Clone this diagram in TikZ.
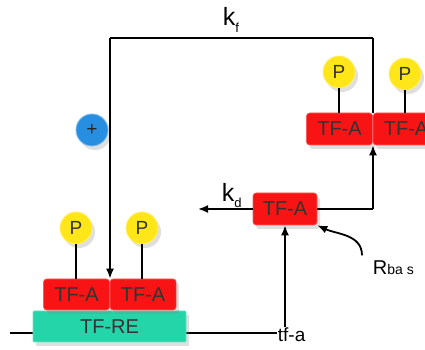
\documentclass[tikz,border=0pt]{standalone}
\usepackage{fontspec}
\setmainfont{Liberation Sans}
\usepackage{tikz}
\usetikzlibrary{arrows.meta,positioning,shadows}

\definecolor{tfred}{RGB}{248,20,20}
\definecolor{tfteal}{RGB}{37,213,170}
\definecolor{phyellow}{RGB}{255,230,25}
\definecolor{plusblue}{RGB}{40,142,224}

\begin{document}
\begin{tikzpicture}[x=1pt,y=1pt,line width=1.8pt,>={Latex[length=10pt,width=8pt]},
  shade/.style={drop shadow={opacity=0.25,shadow xshift=3pt,shadow yshift=-4pt}},
  tfbox/.style={shade,fill=tfred,draw=tfred!70!white,line width=0.6pt,rounded corners=3pt,minimum width=66pt,minimum height=31pt,inner sep=0pt,text=black!80,font=\fontsize{20}{22}\selectfont},
  rebox/.style={tfbox,fill=tfteal,draw=tfteal!70!white,minimum width=153pt,rounded corners=1pt},
  phos/.style={shade,circle,fill=phyellow,draw=phyellow!60!white,line width=0.8pt,minimum size=32pt,inner sep=0pt,text=black!80,font=\fontsize{19}{20}\selectfont},
  txt/.style={inner sep=0pt,anchor=base west}]
\useasboundingbox (0,0) rectangle (425,350);
\clip (0,0) rectangle (425,350);

% DNA strand and gene
\coordinate (dnaL) at (10,17);
\node[txt,font=\fontsize{19}{20}\selectfont] (tfa) at (277,8) {tf-a};
\draw (dnaL) -- (tfa.west |- dnaL);
\node[rebox] (re) at (109.5,23.5) {TF-RE};

% bound dimer
\node[tfbox] (ta1) at (76.5,55.5) {TF-A};
\node[tfbox,right=0pt of ta1] (ta2) {TF-A};
\node[phos] (p1) at (76,122) {P};
\node[phos] (p2) at (142,122) {P};

% free dimer
\node[tfbox,minimum height=32pt] (tb1) at (339.5,221) {TF-A};
\node[tfbox,minimum height=32pt,right=0pt of tb1] (tb2) {TF-A};
\node[phos] (p3) at (339,278) {P};
\node[phos] (p4) at (405,276) {P};

% monomer
\node[tfbox,minimum width=64pt,minimum height=32pt] (mono) at (285,141) {TF-A};

\node[shade,circle,fill=plusblue,draw=plusblue!60!white,line width=0.8pt,minimum size=32pt,inner sep=0pt,text=black!85,font=\fontsize{19}{20}\selectfont] (plus) at (92,220) {+};

\coordinate (tl) at (110,312);
\coordinate (tr) at (373,312);
\coordinate (kd) at (198,141);

\node[txt,font=\fontsize{25}{26}\selectfont] (kf) at (222,324) {k\raisebox{-7pt}{\fontsize{13}{13}\selectfont f}};
\node[txt,font=\fontsize{25}{26}\selectfont] (kdl) at (221,148) {k\raisebox{-6pt}{\fontsize{13}{13}\selectfont d}};
\node[txt,font=\fontsize{20}{20}\selectfont] (rb) at (372,75) {R{\fontsize{14}{14}\selectfont ba s}};

\path
(p1.south) edge (p1.south |- ta1.north)
(p2.south) edge (p2.south |- ta2.north)
(p3.south) edge (p3.south |- tb1.north)
(p4.south) edge (p4.south |- tb2.north)
(tr |- tb1.north) edge (tr)
(tr) edge (tl)
(mono.east) edge (mono.east -| tr)
;
\path[->]
(tl) edge (tl |- ta1.north)
(mono.east -| tr) edge (tr |- tb1.south)
(mono.west) edge (kd)
(mono |- tfa.north) edge (mono.south)
([xshift=-10pt,yshift=5pt]rb.north west) edge[out=90,in=-25] (mono.south east)
;
\end{tikzpicture}
\end{document}
